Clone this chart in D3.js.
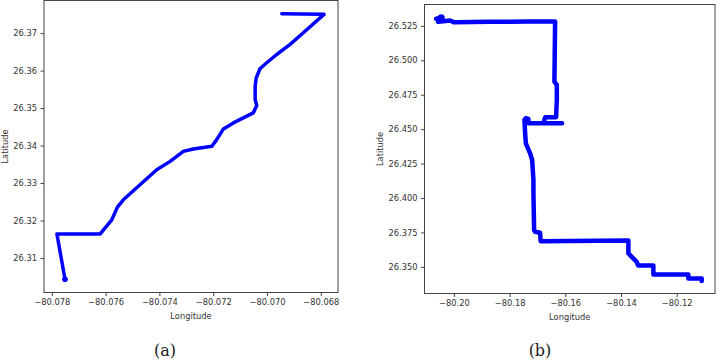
<!DOCTYPE html>
<html>
<head>
<meta charset="utf-8">
<script src="https://cdn.jsdelivr.net/npm/d3@7"></script>
<style>
  body { margin: 0; background: #fff; }
  svg { display: block; }
  .tick text { font-family: "DejaVu Sans", sans-serif; font-size: 8.3px; fill: #333; }
  .tick line { stroke: #444; }
  .domain { display: none; }
</style>
</head>
<body>
<div id="graphic"></div>
<script>
// Track (a)
const trackALon = [-80.07751, -80.07781, -80.07620, -80.07577, -80.07556, -80.07534, -80.07472, -80.07410,
  -80.07360, -80.07311, -80.07274, -80.07205, -80.07187, -80.07162, -80.07125, -80.07051, -80.07038,
  -80.07044, -80.07044, -80.07040, -80.07026, -80.07001, -80.06964, -80.06914, -80.06865, -80.06788, -80.06945];
const trackALat = [26.30433, 26.31644, 26.31644, 26.32019, 26.32358, 26.32553, 26.32955, 26.33356,
  26.33578, 26.33845, 26.33909, 26.33979, 26.34158, 26.34444, 26.34604, 26.34872, 26.35067,
  26.35227, 26.35583, 26.35807, 26.36048, 26.36209, 26.36430, 26.36698, 26.37011, 26.37500, 26.37519];

// Track (b)
const trackBLon = [-80.20635, -80.20456, -80.20563, -80.20133, -80.20014, -80.18698, -80.17263, -80.16366,
  -80.16391, -80.16305, -80.16305, -80.16330, -80.16725, -80.16786, -80.16115, -80.17324, -80.17324,
  -80.17417, -80.17467, -80.17442, -80.17417, -80.17263, -80.17191, -80.17144, -80.17144, -80.17119,
  -80.17083, -80.16904, -80.16886, -80.14813, -80.13736, -80.13736, -80.13614, -80.13435, -80.13388,
  -80.12839, -80.12839, -80.11584, -80.11584, -80.11103, -80.11103];
const trackBLat = [26.53009, 26.53082, 26.52791, 26.52885, 26.52769, 26.52791, 26.52813, 26.52813,
  26.48450, 26.48210, 26.47120, 26.45862, 26.45862, 26.45426, 26.45426, 26.45426, 26.45738,
  26.45789, 26.45666, 26.44699, 26.43972, 26.43244, 26.42758, 26.41303, 26.40336, 26.37668,
  26.37544, 26.37472, 26.36868, 26.36890, 26.36919, 26.35974, 26.35726, 26.35363, 26.35102,
  26.35102, 26.34447, 26.34447, 26.34156, 26.34156, 26.33982];

// Ticks
const ticksAX = [-80.078, -80.076, -80.074, -80.072, -80.070, -80.068];
const ticksAY = [26.31, 26.32, 26.33, 26.34, 26.35, 26.36, 26.37];
const ticksBX = [-80.20, -80.18, -80.16, -80.14, -80.12];
const ticksBY = [26.350, 26.375, 26.400, 26.425, 26.450, 26.475, 26.500, 26.525];

const svg = d3.select("#graphic")
  .append("svg")
  .attr("width", 720)
  .attr("height", 360);

function panel(cfg) {
  const x = d3.scaleLinear().domain(cfg.xDomain).range([cfg.left, cfg.right]);
  const y = d3.scaleLinear().domain(cfg.yDomain).range([cfg.bottom, cfg.top]);

  const pts = cfg.lon.map((d, i) => [d, cfg.lat[i]]);
  const line = d3.line().x(d => x(d[0])).y(d => y(d[1]));

  svg.append("path")
    .datum(pts)
    .attr("d", line)
    .attr("fill", "none")
    .attr("stroke", "#0000ff")
    .attr("stroke-width", cfg.width)
    .attr("stroke-linejoin", "round")
    .attr("stroke-linecap", "round");

  // start marker (bigger dot where the track begins)
  svg.append("circle")
    .attr("cx", x(pts[cfg.dot][0]))
    .attr("cy", y(pts[cfg.dot][1]))
    .attr("r", cfg.width * 0.8)
    .attr("fill", "#0000ff");

  svg.append("g")
    .attr("transform", "translate(0," + cfg.bottom + ")")
    .call(d3.axisBottom(x).tickValues(cfg.ticksX).tickFormat(d3.format(cfg.fmtX)).tickSize(3.5).tickPadding(3.5));

  svg.append("g")
    .attr("transform", "translate(" + cfg.left + ",0)")
    .call(d3.axisLeft(y).tickValues(cfg.ticksY).tickFormat(d3.format(cfg.fmtY)).tickSize(3.5).tickPadding(3.5));

  // frame
  svg.append("rect")
    .attr("x", cfg.left)
    .attr("y", cfg.top)
    .attr("width", cfg.right - cfg.left)
    .attr("height", cfg.bottom - cfg.top)
    .attr("fill", "none")
    .attr("stroke", "#444")
    .attr("stroke-width", 1);

  svg.append("text")
    .attr("x", (cfg.left + cfg.right) / 2)
    .attr("y", cfg.bottom + 26)
    .attr("text-anchor", "middle")
    .style("font-family", "DejaVu Sans, sans-serif")
    .style("font-size", "8.3px")
    .style("fill", "#333")
    .text("Longitude");

  svg.append("text")
    .attr("transform", "translate(" + cfg.ylabX + "," + (cfg.top + cfg.bottom) / 2 + ") rotate(-90)")
    .attr("text-anchor", "middle")
    .attr("dy", "0.35em")
    .style("font-family", "DejaVu Sans, sans-serif")
    .style("font-size", "8.3px")
    .style("fill", "#333")
    .text("Latitude");

  svg.append("text")
    .attr("x", cfg.capX)
    .attr("y", 356)
    .attr("text-anchor", "middle")
    .style("font-family", "DejaVu Serif, serif")
    .style("font-size", "16px")
    .style("fill", "#222")
    .text(cfg.caption);
}

panel({
  lon: trackALon, lat: trackALat,
  xDomain: [-80.07829, -80.06736], yDomain: [26.3008, 26.3787],
  left: 44, right: 338, top: 0.5, bottom: 292.5,
  ticksX: ticksAX, ticksY: ticksAY, fmtX: ".3f", fmtY: ".2f",
  width: 3.5, dot: 0, ylabX: 5, capX: 165, caption: "(a)"
});

panel({
  lon: trackBLon, lat: trackBLat,
  xDomain: [-80.21055, -80.10626], yDomain: [26.33066, 26.54049],
  left: 424.5, right: 715, top: 4.5, bottom: 293.5,
  ticksX: ticksBX, ticksY: ticksBY, fmtX: ".2f", fmtY: ".3f",
  width: 4.5, dot: 1, ylabX: 380, capX: 540, caption: "(b)"
});
</script>
</body>
</html>
